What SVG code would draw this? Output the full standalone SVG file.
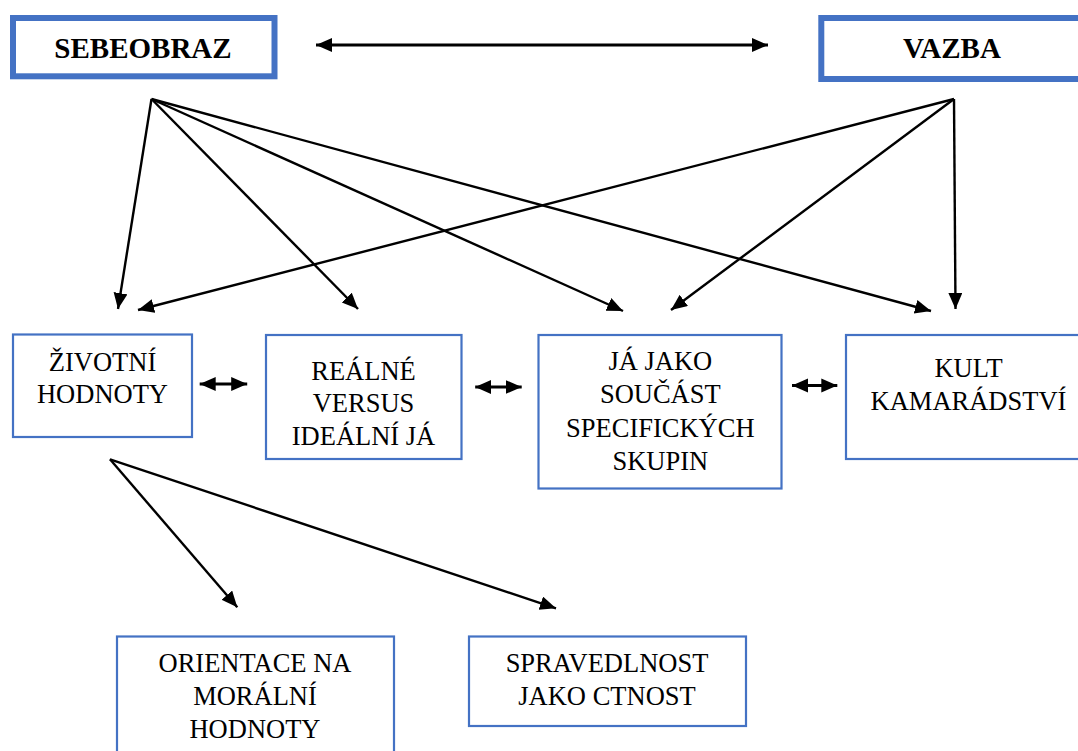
<svg xmlns="http://www.w3.org/2000/svg" width="1078" height="751" viewBox="0 0 1078 751">
<style>
.t{font-family:'Liberation Serif','Times New Roman',serif;font-size:26.5px;fill:#000;text-anchor:middle}
.b{font-family:'Liberation Serif','Times New Roman',serif;font-size:29px;font-weight:bold;fill:#000;text-anchor:middle}
.thick{fill:#fff;stroke:#4472C4;stroke-width:6}
.thin{fill:#fff;stroke:#4472C4;stroke-width:2.2}
.c{stroke:#000;stroke-width:2.4;fill:none;marker-end:url(#ah)}
.d{stroke:#000;stroke-width:2.8;fill:none;marker-start:url(#ah2);marker-end:url(#ah2)}
</style>
<defs>
<marker id="ah" markerUnits="userSpaceOnUse" markerWidth="17" markerHeight="15" refX="16" refY="7" orient="auto-start-reverse" viewBox="0 0 17 15">
<path d="M0,0 L16,7 L0,14 z" fill="#000"/>
</marker>
<marker id="ah2" markerUnits="userSpaceOnUse" markerWidth="17" markerHeight="16" refX="16" refY="7.5" orient="auto-start-reverse" viewBox="0 0 17 16">
<path d="M0,0.5 L16,7.5 L0,14.5 z" fill="#000"/>
</marker>
</defs>
<rect width="1078" height="751" fill="#fff"/>
<g id="connectors">
<line class="d" x1="316" y1="45" x2="768" y2="45"/>
<line class="c" x1="151.5" y1="99" x2="118" y2="309"/>
<line class="c" x1="151.5" y1="99" x2="358" y2="309"/>
<line class="c" x1="151.5" y1="99" x2="623" y2="311"/>
<line class="c" x1="151.5" y1="99" x2="931" y2="311"/>
<line class="c" x1="954" y1="99" x2="138" y2="310"/>
<line class="c" x1="954" y1="99" x2="671" y2="310"/>
<line class="c" x1="954" y1="99" x2="955.5" y2="309"/>
<line class="d" x1="199.7" y1="384" x2="247.2" y2="384"/>
<line class="d" x1="475.2" y1="387" x2="521.7" y2="387"/>
<line class="d" x1="792" y1="385.5" x2="837.3" y2="385.5"/>
<line class="c" x1="110" y1="459.3" x2="237.3" y2="607.3"/>
<line class="c" x1="110" y1="459.3" x2="556" y2="608.3"/>
</g>
<g id="sebeobraz">
<rect class="thick" x="13" y="18" width="261.5" height="58.3"/>
<text class="b" x="143" y="58.3">SEBEOBRAZ</text>
</g>
<g id="vazba">
<rect class="thick" x="821.3" y="18" width="262" height="61"/>
<text class="b" x="952" y="58.3">VAZBA</text>
</g>
<g id="zivotni">
<rect class="thin" x="13" y="334.5" width="179" height="102.5"/>
<text class="t" x="102.5" y="370.7">ŽIVOTNÍ</text>
<text class="t" x="102.5" y="403.3">HODNOTY</text>
</g>
<g id="realne">
<rect class="thin" x="266" y="335" width="195.5" height="124"/>
<text class="t" x="363.5" y="380">REÁLNÉ</text>
<text class="t" x="363.5" y="411.7">VERSUS</text>
<text class="t" x="363.5" y="445">IDEÁLNÍ JÁ</text>
</g>
<g id="ja-jako">
<rect class="thin" x="538.5" y="335" width="243" height="153.5"/>
<text class="t" x="660.3" y="370">JÁ JAKO</text>
<text class="t" x="660.3" y="403.3">SOUČÁST</text>
<text class="t" x="660.3" y="436.7">SPECIFICKÝCH</text>
<text class="t" x="660.3" y="470">SKUPIN</text>
</g>
<g id="kult">
<rect class="thin" x="846" y="335" width="246" height="124"/>
<text class="t" x="968.5" y="376.7">KULT</text>
<text class="t" x="968.5" y="410">KAMARÁDSTVÍ</text>
</g>
<g id="orientace">
<rect class="thin" x="117" y="636.5" width="277" height="130"/>
<text class="t" x="255" y="671.7">ORIENTACE NA</text>
<text class="t" x="255" y="705">MORÁLNÍ</text>
<text class="t" x="255" y="738.3">HODNOTY</text>
</g>
<g id="spravedlnost">
<rect class="thin" x="469" y="636.5" width="277" height="89.5"/>
<text class="t" x="607" y="671.7">SPRAVEDLNOST</text>
<text class="t" x="607" y="705">JAKO CTNOST</text>
</g>
</svg>
